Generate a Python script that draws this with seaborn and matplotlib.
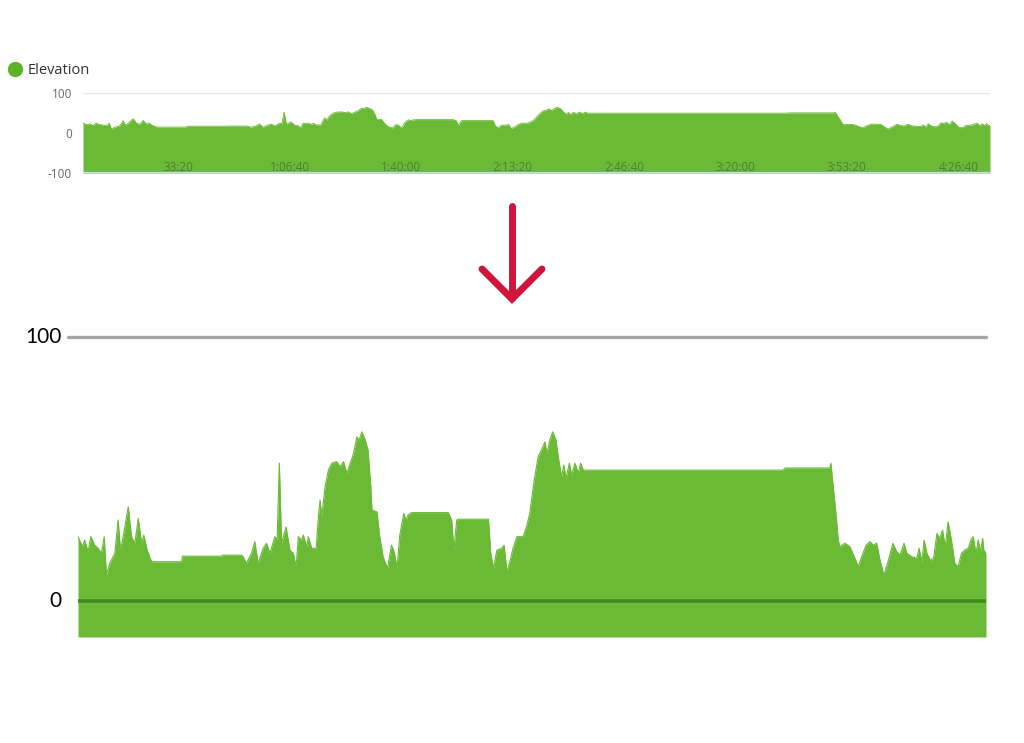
import matplotlib
matplotlib.use("Agg")
import matplotlib.pyplot as plt
import seaborn as sns
import pandas as pd
from matplotlib.lines import Line2D

# =========================
# DATA
# =========================

elapsed_s = [
    290, 370, 410, 470, 520, 590, 650, 710, 760, 800, 860, 950, 1010, 1050, 1100,
    1190, 1250, 1310, 1370, 1430, 1470, 1530, 1610, 2150, 2160, 2870, 2880, 3220,
    3250, 3310, 3400, 3460, 3520, 3610, 3670, 3730, 3820, 3860, 3900, 3940, 4020,
    4090, 4150, 4200, 4240, 4300, 4330, 4390, 4420, 4480, 4560, 4600, 4630, 4660,
    4720, 4780, 4840, 4930, 4990, 5050, 5110, 5170, 5230, 5290, 5330, 5380, 5440,
    5490, 5540, 5560, 5650, 5700, 5760, 5840, 5910, 5960, 6010, 6060, 6130, 6170,
    6210, 6270, 6930, 6990, 7030, 7080, 7110, 7650, 7690, 7740, 7800, 7890, 7930,
    7980, 8040, 8090, 8160, 8270, 8330, 8390, 8470, 8540, 8600, 8660, 8700, 8750,
    8800, 8860, 8900, 8960, 9000, 9040, 9100, 9140, 9200, 9260, 9300, 9350, 12930,
    12970, 13770, 13790, 13830, 13880, 13920, 13950, 14040, 14130, 14220, 14280,
    14340, 14420, 14490, 14550, 14610, 14670, 14740, 14820, 14900, 14970, 15030,
    15100, 15150, 15240, 15330, 15370, 15420, 15460, 15510, 15570, 15630, 15690,
    15740, 15790, 15840, 15890, 15950, 16010, 16070, 16130, 16190, 16250, 16300,
    16340, 16390, 16430, 16470, 16510, 16530, 16570,
]

elevation_m = [
    24.4, 20.6, 23.1, 18.7, 24.4, 21.2, 20.0, 18.1, 24.4, 9.8, 14.3, 18.1, 30.7, 19.3, 24.4,
    35.7, 24.4, 21.9, 31.3, 21.9, 25.0, 19.3, 14.9, 14.9, 17.0, 17.0, 17.4, 17.4,
    16.8, 14.3, 18.1, 22.5, 14.3, 20.0, 21.9, 18.1, 24.4, 23.1, 52.2, 21.9, 28.1,
    19.3, 18.1, 13.0, 24.4, 23.1, 25.0, 20.6, 24.4, 20.0, 20.0, 31.9, 38.3, 31.9,
    43.3, 49.6, 52.2, 52.8, 50.9, 52.8, 48.4, 52.2, 55.9, 62.2, 61.0, 64.1, 61.0,
    57.2, 43.3, 34.5, 33.8, 24.4, 16.8, 12.4, 21.2, 18.7, 12.4, 25.0, 33.2, 30.7,
    32.6, 33.5, 33.5, 30.7, 19.3, 30.7, 31.0, 31.0, 18.1, 12.4, 19.3, 20.0, 21.2,
    11.1, 15.5, 20.0, 24.4, 24.4, 28.1, 33.2, 45.8, 54.7, 57.2, 60.3, 55.9, 61.0,
    64.1, 61.0, 54.7, 47.1, 51.5, 46.5, 52.2, 47.7, 52.2, 48.4, 52.2, 49.6, 49.6,
    50.4, 50.4, 52.2, 43.3, 33.2, 23.1, 20.6, 21.9, 20.6, 16.2, 13.0,
    16.8, 21.2, 22.5, 21.2, 21.9, 15.5, 9.8, 15.5, 21.9, 18.7, 17.4,
    21.9, 18.1, 16.8, 16.2, 20.0, 14.9, 23.1, 18.1, 15.5, 16.2, 25.6,
    23.7, 26.9, 20.6, 30.0, 23.1, 14.3, 13.0, 18.1, 19.3, 20.0, 23.1,
    24.4, 18.1, 23.1, 18.7, 23.7, 19.3, 18.1,
]

top_yticks = [-100, 0, 100]
top_xticks = [2000, 4000, 6000, 8000, 10000, 12000, 14000, 16000]
zoom_yticks = [0, 100]

df = pd.DataFrame({"t": elapsed_s, "elev": elevation_m})

GREEN = "#6aba35"
DARK_GREEN = "#3f8c1c"
RED = "#d0143a"


def hms(sec):
    h, rest = divmod(int(sec), 3600)
    m, s = divmod(rest, 60)
    if h == 0:
        return f"{m}:{s:02d}"
    return f"{h}:{m:02d}:{s:02d}"


# =========================
# FIGURE
# =========================

sns.set_theme(style="white")
plt.rcParams["font.family"] = ["Open Sans", "DejaVu Sans"]

W, H = 1024, 743
fig = plt.figure(figsize=(10.24, 7.43), dpi=100)


def px_axes(x0, y0, x1, y1):
    # pixel box (top-left origin) -> figure axes
    return fig.add_axes([x0 / W, 1 - y1 / H, (x1 - x0) / W, (y1 - y0) / H])


# ---- small overview chart ----
ax1 = px_axes(83, 93, 990, 173)
ax1.fill_between(df["t"], -100, df["elev"], color=GREEN, lw=0, zorder=1)
sns.lineplot(data=df, x="t", y="elev", ax=ax1, color=GREEN, lw=0.6, zorder=1)
ax1.axhline(100, color="#e6e6e6", lw=1, zorder=0)
ax1.axhline(-100, color="#cfe3c2", lw=1.5, zorder=2)
ax1.set_axisbelow(False)
ax1.set_xlim(elapsed_s[0], elapsed_s[-1])
ax1.set_ylim(-100, 100)
ax1.set_yticks(top_yticks)
ax1.set_yticklabels(["-100", "0", "100"])
ax1.set_xticks(top_xticks)
ax1.set_xticklabels([hms(v) for v in top_xticks])
ax1.tick_params(axis="y", length=0, pad=8, labelsize=8.5, labelcolor="#666666")
ax1.tick_params(axis="x", length=0, pad=-8.5, labelsize=8.5, labelcolor="#4d7f33")
ax1.set_xlabel("")
ax1.set_ylabel("")
sns.despine(ax=ax1, left=True, bottom=True)

fig.legend(handles=[Line2D([], [], marker="o", ls="", color="#5db22a", markersize=10)],
           labels=["Elevation"], loc="center left",
           bbox_to_anchor=(9 / W, 1 - 71 / H), frameon=False,
           handlelength=0.8, handletextpad=0.5, borderpad=0, borderaxespad=0,
           prop={"size": 10.5}, labelcolor="#333333")

# ---- arrow ----
fig.add_artist(Line2D([512 / W, 512 / W], [1 - 206 / H, 1 - 298 / H],
                      color=RED, lw=5, solid_capstyle="round"))
fig.add_artist(Line2D([482 / W, 512 / W, 542 / W],
                      [1 - 269 / H, 1 - 299 / H, 1 - 269 / H],
                      color=RED, lw=5, solid_capstyle="round", solid_joinstyle="miter"))

# ---- zoomed chart ----
ax2 = px_axes(78, 337, 986, 637)
ymin = -13.6
ax2.fill_between(df["t"], ymin, df["elev"], color=GREEN, lw=0, zorder=1)
sns.lineplot(data=df, x="t", y="elev", ax=ax2, color=GREEN, lw=0.8, zorder=1)
ax2.axhline(0, color=DARK_GREEN, lw=2.6, zorder=3)
ax2.axhline(100, xmin=-0.011, xmax=1.0, color="#a6a6a6", lw=2.4, zorder=3, clip_on=False)
ax2.set_xlim(elapsed_s[0], elapsed_s[-1])
ax2.set_ylim(ymin, 100)
ax2.set_xticks([])
ax2.set_yticks([])
ax2.set_xlabel("")
ax2.set_ylabel("")
sns.despine(ax=ax2, left=True, bottom=True)

trans = ax2.get_yaxis_transform()
for val in zoom_yticks:
    ax2.text(-16 / 908, val, str(val), transform=trans, ha="right", va="center",
             fontsize=15, color="black", family=["Lato", "DejaVu Sans"])

fig.savefig("out.png", dpi=100, facecolor="white")
